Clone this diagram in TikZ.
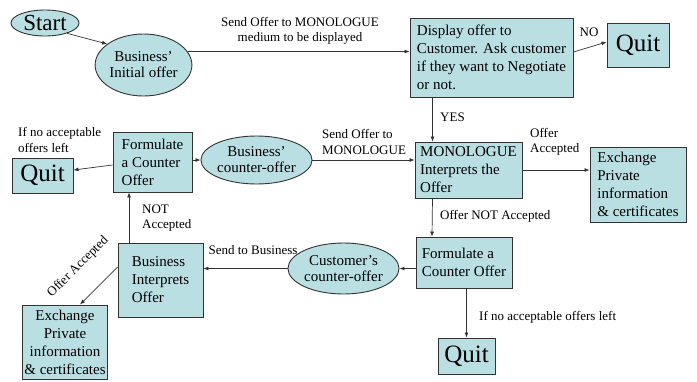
\documentclass[tikz,border=0pt]{standalone}
\usepackage{fontspec}
\setmainfont{Liberation Serif}
\usetikzlibrary{shapes.geometric,arrows.meta}
\definecolor{boxfill}{HTML}{B9DFE3}
\definecolor{edge}{HTML}{333333}
\begin{document}
\begin{tikzpicture}[x=1pt,y=-1pt,
  box/.style={draw=edge, fill=boxfill, line width=0.9pt, align=left, inner sep=2pt,
    font=\fontsize{15}{18}\selectfont},
  ell/.style={ellipse, draw=edge, fill=boxfill, line width=0.9pt, align=center, inner sep=0pt,
    font=\fontsize{15}{16}\selectfont},
  quitbox/.style={box, font=\fontsize{25}{28}\selectfont, align=center},
  lab/.style={font=\fontsize{13}{15.5}\selectfont, align=left, inner sep=0pt},
  arr/.style={-{Latex[length=5pt,width=4pt]}, draw=edge, line width=0.7pt},
  ln/.style={draw=edge, line width=0.7pt}]
\useasboundingbox (0,0) rectangle (697,381);

% nodes
\node[ell, minimum width=68pt, minimum height=26pt, font=\fontsize{23}{24}\selectfont] (start) at (45,23) {Start};
\node[ell, minimum width=95pt, minimum height=62pt] (bio) at (143.5,65) {Business'\\Initial offer};
\node[box, minimum width=163pt, minimum height=79pt] (disp) at (491.5,57.5) {Display offer to\\Customer. Ask customer\\if they want to Negotiate\\or not.};
\node[quitbox, minimum width=62pt, minimum height=44pt] (quit1) at (638,45) {Quit};
\node[box, minimum width=107pt, minimum height=56pt] (mono) at (468.5,170) {MONOLOGUE\\Interprets the\\Offer};
\node[box, minimum width=96pt, minimum height=75pt] (exr) at (638,184.5) {Exchange\\Private\\information\\\& certificates};
\node[box, minimum width=79pt, minimum height=60pt] (fcl) at (152.5,162) {Formulate\\a Counter\\Offer};
\node[quitbox, minimum width=61pt, minimum height=35pt] (quitl) at (42.5,175.5) {Quit};
\node[ell, minimum width=107pt, minimum height=48pt] (bco) at (256.5,160) {Business'\\counter-offer};
\node[box, minimum width=96pt, minimum height=51pt] (fcr) at (464,262.5) {Formulate a\\Counter Offer};
\node[ell, minimum width=103pt, minimum height=51pt] (cco) at (343.5,268.5) {Customer's\\counter-offer};
\node[quitbox, minimum width=57pt, minimum height=36pt] (quitb) at (466.5,356) {Quit};
\node[box, minimum width=85pt, minimum height=74pt] (bio2) at (160.5,280) {Business\\Interprets\\Offer};
\node[box, minimum width=84pt, minimum height=74pt, align=center] (exl) at (65,342) {Exchange\\Private\\information\\\& certificates};

% labels
\node[lab, align=center] (l1) at (300,31) {Send Offer to MONOLOGUE\\medium to be displayed};
\node[lab] (lno) at (589,32) {NO};
\node[lab, anchor=west] (lyes) at (440,117) {YES};
\node[lab, anchor=west] (lacc) at (530,142) {Offer\\Accepted};
\node[lab, anchor=west] (lnot) at (440,216) {Offer NOT Accepted};
\node[lab, anchor=west] (lsend) at (322,142) {Send Offer to\\MONOLOGUE};
\node[lab, anchor=west] (lnoacc) at (18,140) {If no acceptable\\offers left};
\node[lab, anchor=west] (lnotacc) at (142,218) {NOT\\Accepted};
\node[lab] (lsb) at (253,250) {Send to Business};
\node[lab, rotate=45] (loa) at (78,267) {Offer Accepted};
\node[lab, anchor=west] (lnob) at (479,317) {If no acceptable offers left};

% connectors
\draw[arr] (start.-25) -- (bio.150);
\draw[arr] (bio.17) -- (bio.17 -| disp.west);
\draw[arr] ([yshift=5.5pt]disp.east) -- ([yshift=3pt]quit1.west);
\draw[arr] ([xshift=-59pt]disp.south) -- ([xshift=-36pt]mono.north);
\draw[arr] (mono.east) -- (mono.east -| exr.west);
\draw[arr] ([xshift=-36pt]mono.south) -- ([xshift=-32pt]fcr.north);
\draw[arr] (fcr.west |- cco.east) -- (cco.east);
\draw[arr] (fcr.south -| quitb.north) -- (quitb.north);
\draw[arr] (cco.west) -- (cco.west -| bio2.east);
\draw[arr] ([xshift=-31.5pt]bio2.north) -- ([xshift=-23.5pt]fcl.south);
\draw[arr] ([yshift=13pt]bio2.west) -- ([xshift=15pt]exl.north);
\draw[arr] ([yshift=-3pt]fcl.west) -- ([yshift=5.5pt]quitl.east);
\draw[arr] (fcl.east |- bco.west) -- (bco.west);
\draw[arr] (bco.east) -- (bco.east -| mono.west);
\end{tikzpicture}
\end{document}
